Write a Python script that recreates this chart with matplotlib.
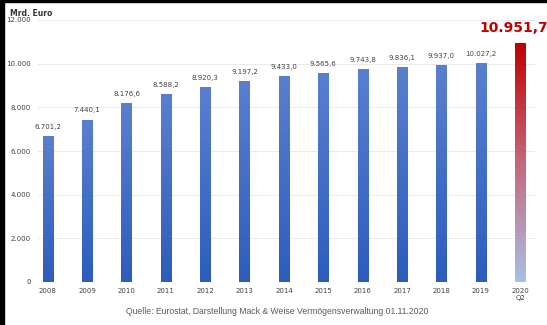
import numpy as np
import matplotlib.pyplot as plt
from matplotlib.colors import LinearSegmentedColormap
from matplotlib.patches import Rectangle

years = ['2008', '2009', '2010', '2011', '2012', '2013', '2014',
         '2015', '2016', '2017', '2018', '2019', '2020\nQ2']
values = [6701.2, 7440.1, 8176.6, 8588.2, 8920.3, 9197.2, 9433.0,
          9565.6, 9743.8, 9836.1, 9937.0, 10027.2, 10951.7]
value_labels = ['6.701,2', '7.440,1', '8.176,6', '8.588,2', '8.920,3', '9.197,2',
                '9.433,0', '9.565,6', '9.743,8', '9.836,1', '9.937,0', '10.027,2',
                '10.951,7']
y_ticks = [0, 2000, 4000, 6000, 8000, 10000, 12000]
y_tick_labels = ['0', '2.000', '4.000', '6.000', '8.000', '10.000', '12.000']

fig = plt.figure(figsize=(5.47, 3.25), dpi=100)
ax = fig.add_axes([38 / 547, 1 - 282 / 325, 497 / 547, 262 / 325])

x = np.arange(len(years))
bars = ax.bar(x, values, width=0.26, color='none', zorder=3)

blue = LinearSegmentedColormap.from_list('blue', ['#2c5dbd', '#5a7fcf'])
last = LinearSegmentedColormap.from_list('last', ['#a9bfe6', '#c5687a', '#c00000'])
grad = np.linspace(0, 1, 256).reshape(-1, 1)
for i, b in enumerate(bars):
    cmap = last if i == len(bars) - 1 else blue
    x0, w, h = b.get_x(), b.get_width(), b.get_height()
    im = ax.imshow(grad, cmap=cmap, extent=[x0, x0 + w, 0, h], origin='lower',
                   aspect='auto', zorder=3)
    im.set_clip_path(b)
    if i < len(bars) - 1:
        ax.text(b.get_x() + w / 2, h + 280, value_labels[i], ha='center', va='bottom',
                fontsize=5, color='#404040', zorder=4)

ax.text(x[-1] - 0.17, values[-1] + 350, value_labels[-1], ha='center', va='bottom',
        fontsize=10, fontweight='bold', color='#c00000', zorder=4)

ax.set_xlim(-0.25, 12.38)
ax.set_ylim(0, 12000)
ax.set_yticks(y_ticks)
ax.set_yticklabels(y_tick_labels)
ax.set_xticks(x)
ax.set_xticklabels(years)
ax.tick_params(axis='both', length=0, labelsize=5, colors='#404040')
ax.tick_params(axis='y', pad=5)
ax.tick_params(axis='x', pad=4)
ax.grid(axis='y', color='#e6e6e6', linewidth=0.6, zorder=0)
for s in ax.spines.values():
    s.set_visible(False)

fig.text(10 / 547, 1 - 14 / 325, 'Mrd. Euro', fontsize=5.5, color='#333333',
         ha='left', va='center', fontweight='bold')
fig.text(277 / 547, 1 - 312 / 325,
         'Quelle: Eurostat, Darstellung Mack & Weise Vermögensverwaltung 01.11.2020',
         fontsize=6.2, family='Liberation Sans', color='#595959', ha='center', va='center')

# black frame on the left and top edges
fig.patches.append(Rectangle((0, 0), 4 / 547, 1, transform=fig.transFigure,
                             color='black', zorder=10))
fig.patches.append(Rectangle((0, 1 - 2 / 325), 1, 2 / 325, transform=fig.transFigure,
                             color='black', zorder=10))

fig.savefig('out.png', dpi=100)
